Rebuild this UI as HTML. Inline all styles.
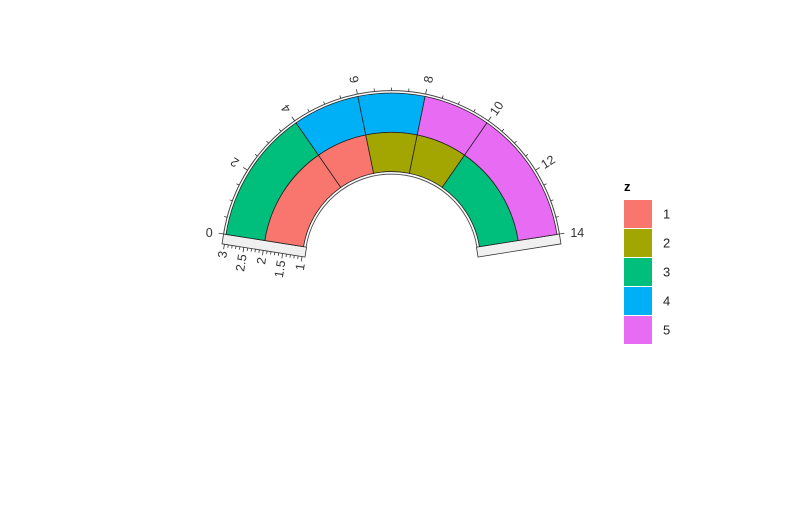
<!DOCTYPE html>
<html><head><meta charset="utf-8"><style>
body{margin:0;background:#fff;}
svg{display:block;font-family:"Liberation Sans",Arial,sans-serif;}
</style></head><body>
<svg id="chart" width="785" height="515" viewBox="0 0 785 515">
<rect width="785" height="515" fill="#fff"/>
<g id="plot"></g>
<g id="legend">
<text x="624" y="191" font-size="13" font-weight="bold" fill="#000">z</text>
</g>
</svg>
<script>
const xStart = [0, 4, 6, 8, 10, 0, 4, 6, 8, 10];
const xEnd   = [4, 6, 8, 10, 14, 4, 6, 8, 10, 14];
const yLow   = [1, 1, 1, 1, 1, 2, 2, 2, 2, 2];
const yHigh  = [2, 2, 2, 2, 2, 3, 3, 3, 3, 3];
const zGroup = [1, 1, 2, 2, 3, 3, 4, 4, 5, 5];
const zLevels = ["1","2","3","4","5"];
const zColors = ["#F8766D","#A3A500","#00BF7D","#00B0F6","#E76BF3"];
const thetaTicks = [0,2,4,6,8,10,12,14];
const rTicks = [1,1.5,2,2.5,3];

const NS="http://www.w3.org/2000/svg";
const cx=391.5, cy=260.6;
const A0=-81, A1=81, TMAX=14;
function ang(t){return A0+(A1-A0)*t/TMAX;}
function rad(y){return 89+(y-1)*(167.6-89)/2;}
function pt(r,a){const q=a*Math.PI/180;return [cx+r*Math.sin(q), cy-r*Math.cos(q)];}
function mk(tag,attrs,parent){const e=document.createElementNS(NS,tag);for(const k in attrs)e.setAttribute(k,attrs[k]);parent.appendChild(e);return e;}
const plot=document.getElementById('plot');

let g1=mk('g',{transform:`translate(${cx},${cy}) rotate(${A0})`},plot);
let s1=mk('rect',{x:-10,y:-170,width:10,height:84,fill:'#f0f0f0',stroke:'#333','stroke-width':0.8},g1);


let g2=mk('g',{transform:`translate(${cx},${cy}) rotate(${A1})`},plot);
let s2=mk('rect',{x:0,y:-170,width:10,height:84,fill:'#f0f0f0',stroke:'#333','stroke-width':0.8},g2);



function arcPath(r,a0,a1){const p0=pt(r,a0),p1=pt(r,a1);return `M${p0[0]},${p0[1]} A${r},${r} 0 0 1 ${p1[0]},${p1[1]}`;}
let o1=mk('path',{d:arcPath(170,A0,A1),fill:'none',stroke:'#444','stroke-width':1},plot);


let o2=mk('path',{d:arcPath(86.5,A0,A1),fill:'none',stroke:'#555','stroke-width':1},plot);



for(let i=0;i<xStart.length;i++){
  const a0=ang(xStart[i]),a1=ang(xEnd[i]),r0=rad(yLow[i]),r1=rad(yHigh[i]);
  const p0=pt(r1,a0),p1=pt(r1,a1),p2=pt(r0,a1),p3=pt(r0,a0);
  const d=`M${p0[0]},${p0[1]} A${r1},${r1} 0 0 1 ${p1[0]},${p1[1]} L${p2[0]},${p2[1]} A${r0},${r0} 0 0 0 ${p3[0]},${p3[1]} Z`;
  const e=mk('path',{d:d,fill:zColors[zGroup[i]-1],stroke:'#222','stroke-width':0.8},plot);
  
  
}

for(let t=0;t<=TMAX+1e-9;t+=0.5){
  const major=Math.abs(t-Math.round(t/2)*2)<1e-9;
  const a=ang(t),p0=pt(170,a),p1=pt(major?175:173,a);
  mk('line',{x1:p0[0],y1:p0[1],x2:p1[0],y2:p1[1],stroke:'#333','stroke-width':0.8},plot);
}
thetaTicks.forEach(t=>{
  const a=ang(t);
  let p,rot;
  if(t===thetaTicks[0]){p=pt(175,a);const e=mk('text',{x:p[0]-6,y:p[1]+4,'font-size':12.5,'text-anchor':'end',fill:'#333'},plot);e.textContent=t;return;}
  if(t===thetaTicks[thetaTicks.length-1]){p=pt(175,a);const e=mk('text',{x:p[0]+6,y:p[1]+4,'font-size':12.5,'text-anchor':'start',fill:'#333'},plot);e.textContent=t;return;}
  p=pt(185,a);rot=a-90;
  const e=mk('text',{x:p[0],y:p[1],'font-size':12.5,'text-anchor':'middle','dominant-baseline':'central',fill:'#333',transform:`rotate(${rot} ${p[0]} ${p[1]})`},plot);
  e.textContent=t;
  
  
});

for(let v=1;v<=3.0001;v+=0.1){
  const r=rad(v);const major=Math.abs(v*2-Math.round(v*2))<1e-6;
  mk('line',{x1:-10,y1:-r,x2:major?-15:-13,y2:-r,stroke:'#333','stroke-width':0.8},g1);
}
rTicks.forEach(v=>{
  const r=rad(v);
  const e=mk('text',{x:-17,y:-r,'font-size':12.5,'text-anchor':'end','dominant-baseline':'central',fill:'#333'},g1);
  e.textContent=v;
  
  
});

const lg=document.getElementById('legend');
zLevels.forEach((lv,i)=>{
  const y=200+i*29;
  const r=mk('rect',{x:624,y:y,width:28,height:28,fill:zColors[i]},lg);
  
  
  const t=mk('text',{x:663,y:y+18.5,'font-size':13,fill:'#222'},lg);
  t.textContent=lv;
  
  
});
</script>
</body></html>
